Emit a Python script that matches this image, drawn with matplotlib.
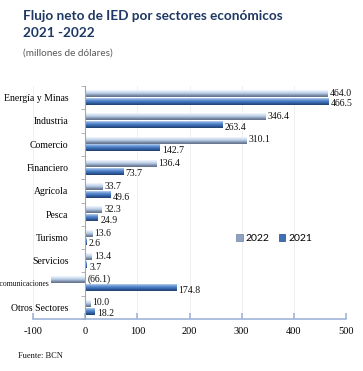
import matplotlib
matplotlib.use("Agg")
import matplotlib.pyplot as plt
import numpy as np
from matplotlib.colors import LinearSegmentedColormap
from matplotlib.patches import Patch

sectors = ["Energía y Minas", "Industria", "Comercio", "Financiero", "Agrícola",
           "Pesca", "Turismo", "Servicios", "Transporte y comunicaciones", "Otros Sectores"]
v2022 = [464.0, 346.4, 310.1, 136.4, 33.7, 32.3, 13.6, 13.4, -66.1, 10.0]
v2021 = [466.5, 263.4, 142.7, 73.7, 49.6, 24.9, 2.6, 3.7, 174.8, 18.2]
xticks = [-100, 0, 100, 200, 300, 400, 500]

fig = plt.figure(figsize=(3.63, 3.71), dpi=100)
ax = fig.add_axes([33/363, 1-319/371, (346-33)/363, (319-86)/371])

cm22 = LinearSegmentedColormap.from_list("c22", ["#f4f8fd", "#d3e1f3", "#b3c6e0", "#7d8ea9", "#5f6f88"])
cm21 = LinearSegmentedColormap.from_list("c21", ["#b9d0ef", "#6f9bd8", "#4478c2", "#2f5a99", "#1f3d6b"])
grad = np.linspace(0, 1, 64).reshape(-1, 1)

h = 0.28
off = 0.17
y = np.arange(len(sectors))

for gx in xticks:
    ax.axvline(gx, color="#ececec", lw=0.6, zorder=0)

def draw(vals, dy, cmap):
    for i, v in enumerate(vals):
        yc = i + dy
        x0, x1 = min(0, v), max(0, v)
        ax.imshow(grad, cmap=cmap, aspect="auto",
                  extent=[x0, x1, yc + h/2, yc - h/2], zorder=2, interpolation="bilinear")

draw(v2022, -off, cm22)
draw(v2021, off, cm21)

def fmt(v):
    return "(%.1f)" % abs(v) if v < 0 else "%.1f" % v

for i, (a, b) in enumerate(zip(v2022, v2021)):
    ax.text(max(a, 0) + 4, i - off - 0.02, fmt(a), fontsize=7, family="Liberation Serif",
            va="center", ha="left", color="#111111", zorder=4)
    ax.text(max(b, 0) + 4, i + off + 0.1, fmt(b), fontsize=7, family="Liberation Serif",
            va="center", ha="left", color="#111111", zorder=4)

ax.set_xlim(-100, 500)
ax.set_ylim(len(sectors) - 0.5, -0.5)

for s in ["top", "right"]:
    ax.spines[s].set_visible(False)
ax.spines["left"].set_position(("data", 0))
ax.spines["left"].set_color("#a6a6a6")
ax.spines["left"].set_linewidth(0.8)
ax.spines["left"].set_zorder(3)
ax.spines["bottom"].set_color("#9fb5d8")
ax.spines["bottom"].set_linewidth(1.2)

ax.set_xticks(xticks)
ax.set_xticklabels([str(t) for t in xticks], family="Liberation Serif", fontsize=7.5)
ax.tick_params(axis="x", direction="in", length=4, color="#9fb5d8", width=1.2, pad=6)

ax.set_yticks(y)
labels = [s if i != 8 else "" for i, s in enumerate(sectors)]
ax.set_yticklabels(labels, family="Liberation Serif", fontsize=7.0)
ax.tick_params(axis="y", which="major", length=0, pad=12)
ax.set_yticks(np.arange(len(sectors) + 1) - 0.5, minor=True)
ax.tick_params(axis="y", which="minor", length=3, color="#a6a6a6", direction="out")

ax.text(min(v2022[8], 0) - 3, 8 - 0.02, sectors[8], fontsize=5.5, family="Liberation Serif",
        ha="right", va="center", color="#111111")

handles = [Patch(facecolor="#8fa2bf", edgecolor="#6f80a0", lw=0.5, label="2022"),
           Patch(facecolor="#3f6fb5", edgecolor="#24497f", lw=0.5, label="2021")]
ax.legend(handles=handles, loc="upper left", bbox_to_anchor=(0.62, 0.405), ncol=2,
          frameon=False, handlelength=0.6, handleheight=0.6,
          handletextpad=0.3, columnspacing=0.9, prop={"family": "Lato", "size": 7.5})

fig.text(23/363, 1-16/371, "Flujo neto de IED por sectores económicos", fontsize=9.8,
         fontweight="bold", family="Lato", color="#1f3864", va="center")
fig.text(23/363, 1-33/371, "2021 -2022", fontsize=9.8, fontweight="bold", family="Lato",
         color="#1f3864", va="center")
fig.text(23/363, 1-53/371, "(millones de dólares)", fontsize=7.2, family="Lato",
         color="#595959", va="center")
fig.text(18/363, 1-356/371, "Fuente: BCN", fontsize=6, family="Liberation Serif",
         color="#111111", va="center")

fig.savefig("out.png", dpi=100)
